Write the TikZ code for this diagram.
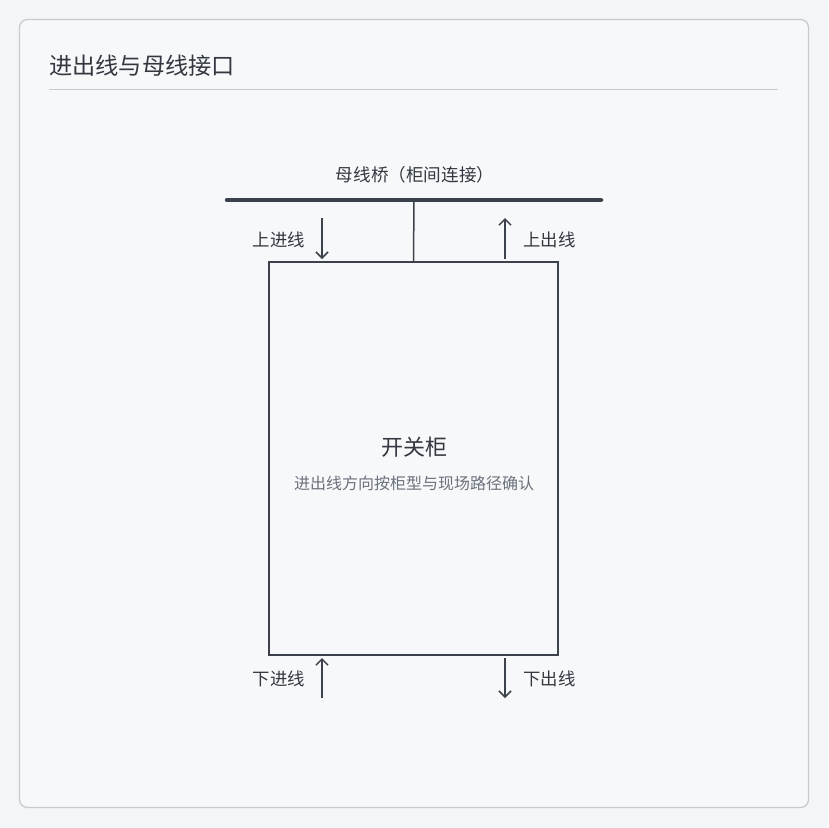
\documentclass[tikz,border=0pt]{standalone}
\usepackage{fontspec}
\setmainfont{Noto Sans CJK SC}
\usetikzlibrary{arrows.meta}
\definecolor{bg}{HTML}{F4F5F7}
\definecolor{card}{HTML}{F7F8FA}
\definecolor{cardline}{HTML}{C6C9CE}
\definecolor{ink}{HTML}{3C424C}
\definecolor{txt}{HTML}{333840}
\definecolor{subtxt}{HTML}{6B717B}
\tikzset{
  px/.style={x=1pt,y=-1pt},
  flow/.style={draw=ink,line width=1.5pt,-{Straight Barb[length=6pt,width=12pt,line width=1.5pt]}},
  lbl/.style={text=txt,font=\fontsize{17.4}{20}\selectfont,inner sep=0pt},
}
\begin{document}
\begin{tikzpicture}[px]
\useasboundingbox (0,0) rectangle (828,828);
\fill[bg] (0,0) rectangle (828,828);
\draw[cardline,fill=card,line width=1.2pt,rounded corners=8pt] (19.5,19.5) rectangle (808.5,807.5);
\node[anchor=west,text=txt,font=\fontsize{23.2}{27}\selectfont,inner sep=0pt] (title) at (49,66) {进出线与母线接口};
\draw[cardline,line width=1pt] (49,89.5) -- (778,89.5);
% busbar
\coordinate (busL) at (227,200);
\coordinate (busR) at (601,200);
\coordinate (busM) at (414,200);
\draw[ink,line width=4.5pt,line cap=round] (busL) -- (busR);
\node[lbl,font=\fontsize{17.6}{20}\selectfont] (buslbl) at (415,175) {母线桥（柜间连接）};
% cabinet
\node[draw=ink,line width=2pt,minimum width=289pt,minimum height=393pt,inner sep=0pt] (cab) at (413.5,458.5) {};
\draw[ink,line width=1.5pt] (busM) -- (cab.north);
\node[text=txt,font=\fontsize{22}{26}\selectfont,inner sep=0pt] (cabname) at (414,447) {开关柜};
\node[text=subtxt,font=\fontsize{16}{19}\selectfont,inner sep=0pt] (cabnote) at (414,483) {进出线方向按柜型与现场路径确认};
% top arrows
\coordinate (a1s) at (322,218); \coordinate (a1e) at (322,259);
\draw[flow] (a1s) -- (a1e);
\node[lbl,anchor=east] (l1) at (305,240) {上进线};
\coordinate (a2s) at (505,259); \coordinate (a2e) at (505,218);
\draw[flow] (a2s) -- (a2e);
\node[lbl,anchor=west] (l2) at (523,240) {上出线};
% bottom arrows
\coordinate (a3s) at (322,698); \coordinate (a3e) at (322,658);
\draw[flow] (a3s) -- (a3e);
\node[lbl,anchor=east] (l3) at (305,679) {下进线};
\coordinate (a4s) at (505,658); \coordinate (a4e) at (505,698);
\draw[flow] (a4s) -- (a4e);
\node[lbl,anchor=west] (l4) at (523,679) {下出线};
\end{tikzpicture}
\end{document}
